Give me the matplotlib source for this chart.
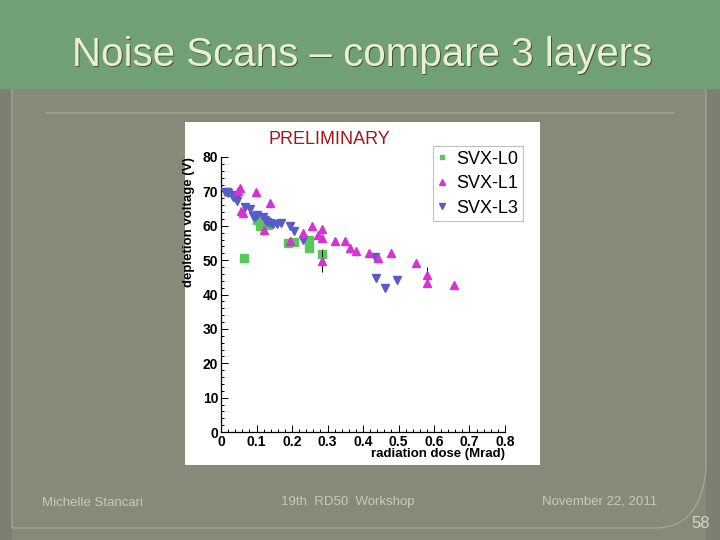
import matplotlib
matplotlib.use('Agg')
import matplotlib.pyplot as plt
from matplotlib.patches import Rectangle, PathPatch
from matplotlib.path import Path
from matplotlib.ticker import MultipleLocator

plt.rcParams['font.family'] = ['Liberation Sans', 'DejaVu Sans']

# SVX-L0 (green squares)
l0_dose = [0.066, 0.100, 0.110, 0.132, 0.188, 0.207, 0.249, 0.249, 0.285]
l0_volt = [50.7, 61.8, 60.0, 60.3, 55.1, 55.4, 55.9, 53.6, 51.8]
l0_err = [0.5, 0.5, 0.5, 0.5, 0.5, 0.5, 0.5, 0.5, 1.3]

# SVX-L1 (magenta triangles)
l1_dose = [0.049, 0.054, 0.057, 0.063, 0.099, 0.121, 0.138, 0.194, 0.232, 0.255,
           0.274, 0.284, 0.284, 0.284, 0.321, 0.348, 0.364, 0.381, 0.416, 0.443,
           0.478, 0.548, 0.581, 0.581, 0.656]
l1_volt = [70.0, 71.0, 64.4, 63.7, 69.9, 58.7, 66.6, 55.6, 57.8, 59.9,
           57.4, 59.1, 56.4, 49.8, 55.6, 55.6, 53.4, 52.7, 52.2, 50.5,
           52.2, 49.1, 45.8, 43.3, 42.8]
l1_err = [1.2, 0.8, 0.6, 0.6, 0.6, 0.6, 0.6, 0.6, 0.6, 0.6,
          0.6, 0.6, 0.6, 3.2, 0.6, 0.6, 0.8, 0.8, 0.8, 0.9,
          0.9, 1.0, 2.2, 0.8, 1.2]

# SVX-L3 (blue inverted triangles)
l3_dose = [0.010, 0.016, 0.021, 0.030, 0.035, 0.039, 0.042, 0.044, 0.068, 0.082,
           0.091, 0.096, 0.100, 0.119, 0.124, 0.130, 0.138, 0.147, 0.157, 0.169,
           0.194, 0.207, 0.232, 0.435, 0.438, 0.463, 0.497]
l3_volt = [69.9, 69.7, 69.4, 68.9, 68.5, 68.1, 67.7, 67.3, 65.5, 65.0,
           62.9, 62.6, 63.1, 62.6, 61.7, 61.1, 60.7, 60.5, 60.5, 60.9,
           59.8, 58.6, 56.0, 51.0, 44.7, 41.8, 44.2]
l3_err = [0.4] * 23 + [0.8, 0.5, 0.5, 0.5]

fig = plt.figure(figsize=(7.2, 5.4), dpi=100)
fig.patch.set_facecolor('#878a78')

# slide background drawn in pixel coordinates
bg = fig.add_axes([0, 0, 1, 1])
bg.set_xlim(0, 720)
bg.set_ylim(540, 0)
bg.axis('off')
bg.add_patch(Rectangle((0, 0), 12, 540, color='#7d8070', lw=0))
bg.add_patch(Rectangle((706, 0), 14, 540, color='#7d8070', lw=0))
bg.add_patch(Rectangle((0, 0), 720, 89, color='#70a078', lw=0))
bg.add_patch(Rectangle((185, 122), 355, 343, color='white', lw=0))
bg.plot([47, 673], [113, 113], color='#9ea591', lw=1.2)
frame = Path([(12, 89), (12, 528), (655, 528), (700, 528), (706, 470), (706, 89)],
             [Path.MOVETO, Path.LINETO, Path.LINETO, Path.CURVE3, Path.CURVE3, Path.LINETO])
bg.add_patch(PathPatch(frame, fill=False, edgecolor='#a5a897', lw=0.9))

bg.text(363.5, 56, 'Noise Scans \u2013 compare 3 layers', fontsize=29,
        color='#45553c', ha='center', va='center')
bg.text(362, 54.5, 'Noise Scans \u2013 compare 3 layers', fontsize=29,
        color='#ecefd2', ha='center', va='center')

bg.text(42, 503, 'Michelle Stancari', fontsize=9.5, color='#c9cbb9', va='center')
bg.text(348, 502, '19th  RD50  Workshop', fontsize=9.5, color='#c9cbb9',
        va='center', ha='center')
bg.text(542, 502, 'November 22, 2011', fontsize=9.5, color='#c9cbb9', va='center')
bg.text(710, 523, '58', fontsize=12, color='#d5d7c5', va='center', ha='right')

# chart
ax = fig.add_axes([221 / 720, 108 / 540, 284 / 720, 275 / 540])
ax.set_facecolor('white')
ax.set_xlim(0, 0.8)
ax.set_ylim(0, 80)
for s in ['top', 'right']:
    ax.spines[s].set_visible(False)
ax.spines['left'].set_linewidth(0.9)
ax.spines['bottom'].set_linewidth(0.9)
ax.xaxis.set_major_locator(MultipleLocator(0.1))
ax.xaxis.set_minor_locator(MultipleLocator(0.02))
ax.yaxis.set_major_locator(MultipleLocator(10))
ax.yaxis.set_minor_locator(MultipleLocator(2))
ax.tick_params(which='both', direction='in', labelsize=10, width=0.7)
ax.tick_params(which='major', length=5, pad=2)
ax.tick_params(which='minor', length=2.5)
ax.set_xticks([0, 0.1, 0.2, 0.3, 0.4, 0.5, 0.6, 0.7, 0.8])
ax.set_xticklabels(['0', '0.1', '0.2', '0.3', '0.4', '0.5', '0.6', '0.7', '0.8'])
for lab in ax.get_xticklabels() + ax.get_yticklabels():
    lab.set_fontweight('bold')

ax.errorbar(l3_dose, l3_volt, yerr=l3_err, fmt='v', color='#5a5ac8', ms=6,
            ecolor='black', elinewidth=0.7, capsize=0, label='SVX-L3', zorder=3)
ax.errorbar(l1_dose, l1_volt, yerr=l1_err, fmt='^', color='#d632d6', ms=6,
            ecolor='black', elinewidth=0.7, capsize=0, label='SVX-L1', zorder=4)
ax.errorbar(l0_dose, l0_volt, yerr=l0_err, fmt='s', color='#58c858', ms=5.5,
            ecolor='black', elinewidth=0.7, capsize=0, label='SVX-L0', zorder=2)

ax.set_xlabel('radiation dose (Mrad)', fontsize=9.5, fontweight='bold', loc='right')
ax.xaxis.set_label_coords(1.0, -0.058)
ax.set_ylabel('depletion voltage (V)', fontsize=9.5, fontweight='bold', loc='top')
ax.yaxis.set_label_coords(-0.09, 1.0)

handles, labels = ax.get_legend_handles_labels()
order = [2, 1, 0]
leg = ax.legend([handles[i][0] for i in order], [labels[i] for i in order],
                loc='upper left', bbox_to_anchor=(433 / 720, 1 - 146 / 540),
                bbox_transform=fig.transFigure, fontsize=13, frameon=True,
                fancybox=False, edgecolor='#c0c0c0', framealpha=1,
                handlelength=0.5, handletextpad=0.55, labelspacing=0.42,
                borderpad=0.25, borderaxespad=0, markerscale=0.65)
leg.get_frame().set_linewidth(0.8)

fig.text(329 / 720, 1 - 140 / 540, 'PRELIMINARY', fontsize=13, color='#a01818',
         ha='center', va='center')

fig.savefig('out.png', dpi=100, facecolor=fig.get_facecolor())
